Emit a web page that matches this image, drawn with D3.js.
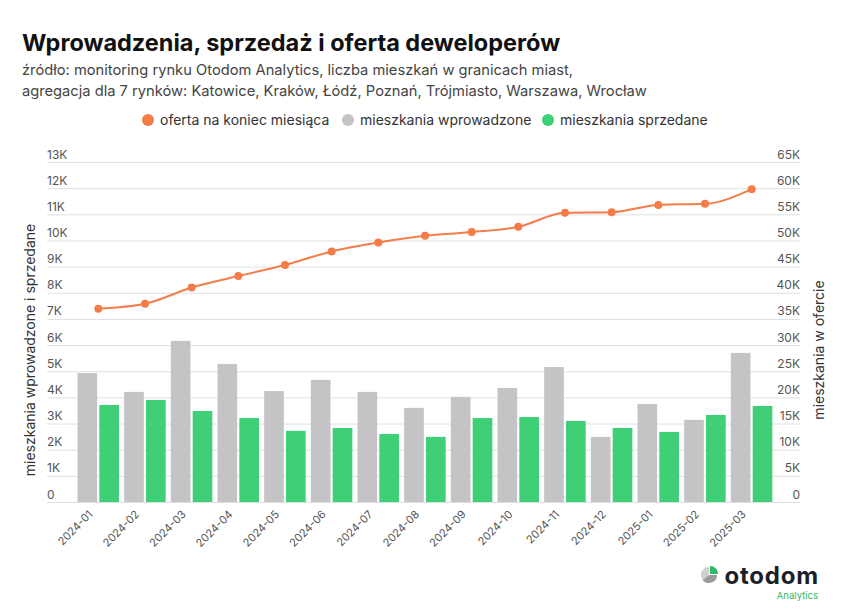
<!DOCTYPE html>
<html>
<head>
<meta charset="utf-8">
<script src="https://cdn.jsdelivr.net/npm/d3@7"></script>
<style>
  body { margin: 0; background: #fff; }
  svg { font-family: Inter, "Noto Sans", sans-serif; }
</style>
</head>
<body>
<div id="chart"></div>
<script>
// data
const months = ['2024-01','2024-02','2024-03','2024-04','2024-05','2024-06','2024-07','2024-08',
  '2024-09','2024-10','2024-11','2024-12','2025-01','2025-02','2025-03'];
const introduced = [4930, 4210, 6160, 5280, 4240, 4670, 4210, 3600, 4020, 4360, 5160, 2490, 3750, 3140, 5700];
const sold = [3710, 3900, 3480, 3210, 2720, 2830, 2600, 2490, 3210, 3250, 3100, 2830, 2680, 3330, 3670];
const offer = [36960, 37900, 41000, 43200, 45300, 47900, 49600, 50900, 51600, 52600, 55300, 55400, 56800, 57000, 59800];
const leftTicks = d3.range(0, 13001, 1000);
const rightTicks = d3.range(0, 65001, 5000);
const legendItems = [
  { name: 'oferta na koniec miesiąca', color: '#f47c48' },
  { name: 'mieszkania wprowadzone', color: '#c4c3c5' },
  { name: 'mieszkania sprzedane', color: '#3ecf77' }
];

const width = 848, height = 613;
const svg = d3.select('#chart').append('svg')
  .attr('width', width).attr('height', height);

// titles
svg.append('text').attr('x', 22).attr('y', 51)
  .attr('font-size', 23.5).attr('font-weight', 700).attr('fill', '#111')
  .text('Wprowadzenia, sprzedaż i oferta deweloperów');
svg.append('text').attr('x', 22).attr('y', 75)
  .attr('font-size', 14.7).attr('fill', '#444')
  .text('źródło: monitoring rynku Otodom Analytics, liczba mieszkań w granicach miast,');
svg.append('text').attr('x', 22).attr('y', 96)
  .attr('font-size', 14.7).attr('fill', '#444')
  .text('agregacja dla 7 rynków: Katowice, Kraków, Łódź, Poznań, Trójmiasto, Warszawa, Wrocław');

// legend
const legend = svg.append('g').selectAll('g').data(legendItems).enter().append('g')
  .attr('transform', (d, i) => `translate(${148 + i * 200},120)`);
legend.append('circle').attr('r', 6).attr('fill', d => d.color);
legend.append('text').attr('x', 12).attr('y', 5)
  .attr('font-size', 14).attr('fill', '#333').text(d => d.name);

// scales
const gridLeft = 47, gridRight = 800;
const x = d3.scaleBand().domain(months).range([75, 775]);
const xInner = d3.scaleBand().domain(['introduced', 'sold']).range([2.5, 44]).paddingInner(0.1);
const yL = d3.scaleLinear().domain([0, 13000]).range([502, 162]);
const yR = d3.scaleLinear().domain([0, 65000]).range([502, 162]);
const kFmt = v => v === 0 ? '0' : (v / 1000) + 'K';

// grid + left labels
const gl = svg.append('g').attr('transform', `translate(${gridLeft},0)`)
  .call(d3.axisRight(yL).tickValues(leftTicks).tickSize(gridRight - gridLeft).tickFormat(kFmt));
gl.select('.domain').remove();
gl.selectAll('line').attr('stroke', '#e0e0e0');
gl.selectAll('text').attr('x', 0).attr('dy', -4).attr('text-anchor', 'start')
  .attr('font-family', 'Inter, sans-serif').attr('font-size', 12).attr('fill', '#555');

// right labels
const gr = svg.append('g').attr('transform', `translate(${gridRight},0)`)
  .call(d3.axisLeft(yR).tickValues(rightTicks).tickSize(0).tickFormat(kFmt));
gr.select('.domain').remove();
gr.selectAll('text').attr('x', 0).attr('dy', -4).attr('text-anchor', 'end')
  .attr('font-family', 'Inter, sans-serif').attr('font-size', 12).attr('fill', '#555');

// axis names
svg.append('text').attr('transform', 'translate(35,350) rotate(-90)')
  .attr('text-anchor', 'middle').attr('font-size', 14).attr('fill', '#333')
  .text('mieszkania wprowadzone i sprzedane');
svg.append('text').attr('transform', 'translate(824,350) rotate(-90)')
  .attr('text-anchor', 'middle').attr('font-size', 14).attr('fill', '#333')
  .text('mieszkania w ofercie');

// bars
const groups = svg.append('g').selectAll('g').data(months).enter().append('g')
  .attr('transform', d => `translate(${x(d)},0)`);
groups.append('rect')
  .attr('x', xInner('introduced')).attr('width', xInner.bandwidth())
  .attr('y', (d, i) => yL(introduced[i])).attr('height', (d, i) => yL(0) - yL(introduced[i]))
  .attr('fill', '#c4c3c5');
groups.append('rect')
  .attr('x', xInner('sold')).attr('width', xInner.bandwidth())
  .attr('y', (d, i) => yL(sold[i])).attr('height', (d, i) => yL(0) - yL(sold[i]))
  .attr('fill', '#3ecf77');

// x labels
const gx = svg.append('g').attr('transform', 'translate(0,502)')
  .call(d3.axisBottom(x).tickSize(0));
gx.select('.domain').remove();
gx.selectAll('text')
  .attr('font-family', 'Inter, sans-serif').attr('font-size', 11).attr('fill', '#555')
  .attr('text-anchor', 'end').attr('dy', 0).attr('y', 0)
  .attr('transform', 'translate(-5,13) rotate(-45)');

// offer line
const cx = d => x(d) + x.bandwidth() / 2;
const line = d3.line().x((d, i) => cx(months[i])).y(d => yR(d)).curve(d3.curveMonotoneX);
svg.append('path').datum(offer).attr('d', line)
  .attr('fill', 'none').attr('stroke', '#f47c48').attr('stroke-width', 2);
svg.append('g').selectAll('circle').data(offer).enter().append('circle')
  .attr('cx', (d, i) => cx(months[i])).attr('cy', d => yR(d)).attr('r', 4)
  .attr('fill', '#f47c48');

// logo
const logo = svg.append('g');
const pie = d3.pie().sort(null)([0.25, 0.4, 0.35]);
const arc = d3.arc().innerRadius(0).outerRadius(8);
const logoColors = ['#2fb865', '#9a9a9e', '#cfcfd2'];
logo.append('g').attr('transform', 'translate(709,575)')
  .selectAll('path').data(pie).enter().append('path')
  .attr('d', arc).attr('fill', (d, i) => logoColors[i])
  .attr('transform', (d, i) => i === 0 ? 'translate(1,-1)' : null);
logo.append('text').attr('x', 819).attr('y', 584).attr('text-anchor', 'end')
  .attr('font-size', 24).attr('font-weight', 700).attr('fill', '#1b1f2a')
  .attr('letter-spacing', 0.8).text('otodom');
logo.append('text').attr('x', 818).attr('y', 599).attr('text-anchor', 'end')
  .attr('font-size', 9.5).attr('fill', '#2fb865').text('Analytics');
</script>
</body>
</html>
